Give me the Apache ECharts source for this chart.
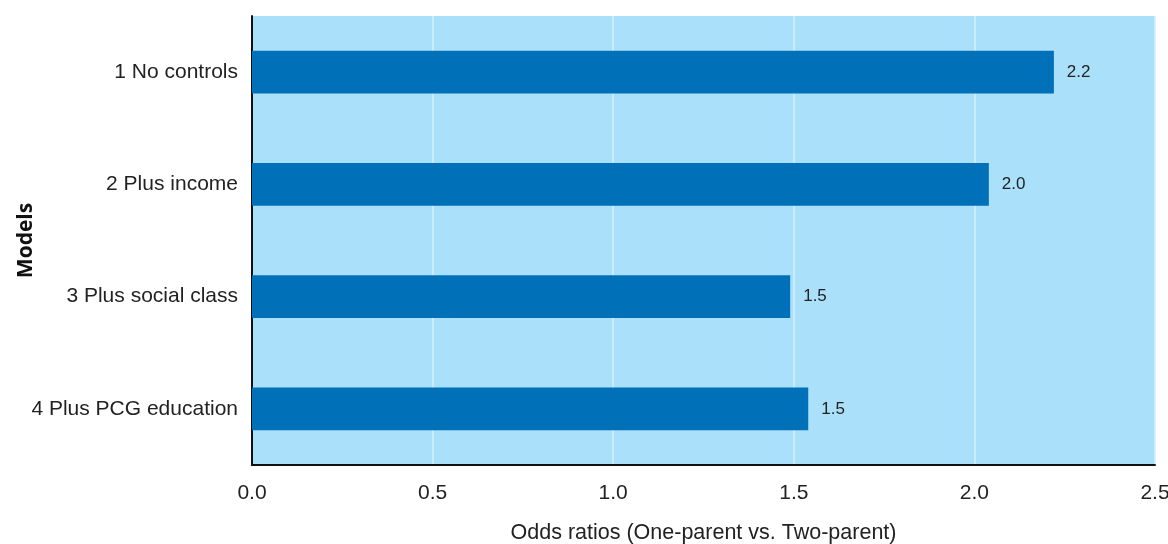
<!DOCTYPE html>
<html>
<head>
<meta charset="utf-8">
<script src="https://cdn.jsdelivr.net/npm/echarts@6/dist/echarts.min.js"></script>
<style>
html,body{margin:0;padding:0;background:#fff;}
#chart{width:1168px;height:544px;}
</style>
</head>
<body>
<div id="chart"></div>
<script>
const categories = ['1 No controls', '2 Plus income', '3 Plus social class', '4 Plus PCG education'];
const oddsRatios = [2.22, 2.04, 1.49, 1.54];
const xTicks = [0, 0.5, 1.0, 1.5, 2.0, 2.5];

const chart = echarts.init(document.getElementById('chart'));
const font = '"Liberation Sans", Arial, Helvetica, sans-serif';
chart.setOption({
  animation: false,
  grid: {left: 252, right: 13, top: 16, bottom: 79, containLabel: false, outerBoundsMode: 'none',
    backgroundColor: '#abe0fa', show: true, borderWidth: 0},
  xAxis: {
    type: 'value', min: xTicks[0], max: xTicks[xTicks.length - 1], interval: 0.5,
    name: 'Odds ratios (One-parent vs. Two-parent)',
    nameLocation: 'middle', nameGap: 57, nameMoveOverlap: false,
    nameTextStyle: {fontFamily: font, fontSize: 21.5, color: '#222'},
    axisLine: {show: true, lineStyle: {color: '#111', width: 2}},
    axisTick: {show: false},
    axisLabel: {fontFamily: font, fontSize: 21, color: '#222', margin: 18,
      formatter: v => v.toFixed(1)},
    splitLine: {show: true, lineStyle: {color: '#d6f0fd', width: 1.5}}
  },
  yAxis: {
    type: 'category', data: categories, inverse: true,
    name: 'Models', nameLocation: 'middle', nameGap: 215, nameMoveOverlap: false,
    nameTextStyle: {fontFamily: '"Open Sans", "Noto Sans", sans-serif', fontSize: 21, fontWeight: 'bold', color: '#111'},
    axisLine: {show: true, lineStyle: {color: '#111', width: 2}},
    axisTick: {show: false},
    axisLabel: {fontFamily: font, fontSize: 21, color: '#222', margin: 14},
    splitLine: {show: false}
  },
  series: [{
    type: 'bar', data: oddsRatios, barWidth: '38.3%',
    itemStyle: {color: '#0070b9'},
    label: {show: true, position: 'right', distance: 13, fontFamily: font, fontSize: 17, color: '#222',
      formatter: p => p.value.toFixed(1)}
  }]
});
</script>
</body>
</html>
